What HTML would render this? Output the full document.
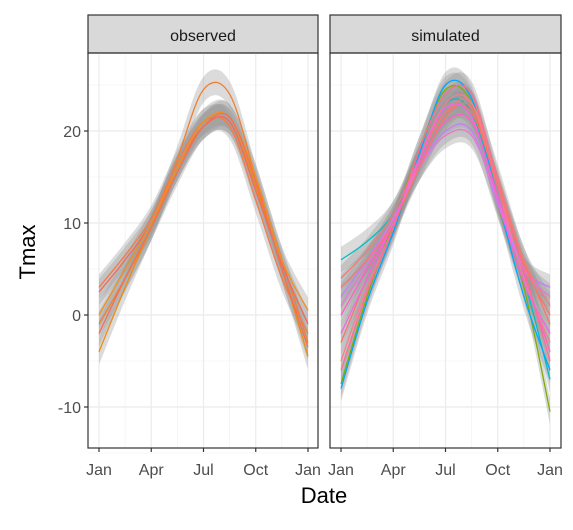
<!DOCTYPE html>
<html><head><meta charset="utf-8"><style>
body{margin:0;background:#fff;font-family:"Liberation Sans",sans-serif}
</style></head><body>
<svg id="c" width="573" height="525" xmlns="http://www.w3.org/2000/svg"></svg>
<script>
const months=[0,1.5,3,4.5,6,7.5,9,10.5,12];
const xTickLabels=["Jan","Apr","Jul","Oct","Jan"];
const xTickMonths=[0,3,6,9,12];
const yTicks=[-10,0,10,20];
const panels=["observed","simulated"];
const obs1=[-1,4,9.5,17,24.5,24,15,6,-3];
const obs2=[-4,3,9.5,16,20.5,21,14,5,-4.5];
const obs3=[2.5,6,10,16,20.5,21,13.5,5.5,-1];
const obs4=[3,6.5,10.5,16.5,21,20.5,12.5,4,-2];
const obs5=[0,5,10,16,21,21.5,15,6,0.5];
const obs6=[-2,4,9.5,15.5,20.5,21.5,14.5,5,-3.5];
const sim1=[-7.5,2,10,18,24.5,23,12,3,-10.5];
const sim2=[6,8,11,17,23,22,13,4,-7];
const sim3=[-8,1.5,9,17.5,25,23.5,12.5,2,-6];
const sim4=[2,6,10.5,16,20,20,12,5,3];
const sim5=[-3,4,10,17,22,22,14,6,-1];
const sim6=[0,5,10,16.5,21,21,13,4.5,-4];
const sim7=[4,7,11,17,22,23,15,6,1];
const sim8=[-5,3,9.5,17,23,23,14,4,-3];
const sim9=[1,5.5,10.5,16,19.5,19.5,12.5,5,2];
const sim10=[-6,2.5,9.5,18,24,24,14.5,5,-5];
const sim11=[3,6,10,16,21.5,22.5,14,5.5,0];
const sim12=[-2,4,10,17,22.5,21.5,12.5,3.5,-2];
const obsSeries=[obs1,obs2,obs3,obs4,obs5,obs6];
const simSeries=[sim1,sim2,sim3,sim4,sim5,sim6,sim7,sim8,sim9,sim10,sim11,sim12];
const obsColors=["#f08030","#f08a10","#f36a5a","#f07c48","#f09020","#f37050"];
const simColors=["#7cae00","#00bfc4","#00a9ff","#c77cff","#f8766d","#ff61c3","#f07c7c","#f58090","#e47ad0","#ff6c91","#f8766d","#f564e3"];
const NS="http://www.w3.org/2000/svg";
const svg=document.getElementById('c');
function el(t,a,p){const e=document.createElementNS(NS,t);for(const k in a)e.setAttribute(k,a[k]);(p||svg).appendChild(e);return e;}
const y=v=>315-9.2*v;
const B=448;
const P=[{x0:88,x1:318,xs:99,xe:308},{x0:330,x1:561,xs:341,xe:550}];
function path(xs,ys){let d=`M${xs[0]},${ys[0]}`;for(let i=0;i<xs.length-1;i++){const p0=i?i-1:i,p3=i+2<xs.length?i+2:i+1;
const c1x=xs[i]+(xs[i+1]-xs[p0])/6,c1y=ys[i]+(ys[i+1]-ys[p0])/6,c2x=xs[i+1]-(xs[p3]-xs[i])/6,c2y=ys[i+1]-(ys[p3]-ys[i])/6;
d+=` C${c1x},${c1y} ${c2x},${c2y} ${xs[i+1]},${ys[i+1]}`;}return d;}
panels.forEach((name,pi)=>{
 const p=P[pi];const x=m=>p.xs+(p.xe-p.xs)*m/12;
 const g=el('g',{});
 const s=el('rect',{x:p.x0,y:15,width:p.x1-p.x0,height:38,fill:'#d9d9d9',stroke:'#333','stroke-width':1.2},g);
 
 const st=el('text',{x:(p.x0+p.x1)/2,y:41,'text-anchor':'middle','font-size':16,fill:'#1a1a1a'},g);st.textContent=name;
 
 [-15,-5,5,15,25].forEach(v=>el('line',{x1:p.x0,x2:p.x1,y1:y(v),y2:y(v),stroke:'#f0f0f0','stroke-width':0.6},g));
 [1.5,4.5,7.5,10.5].forEach(m=>el('line',{x1:x(m),x2:x(m),y1:53,y2:B,stroke:'#f0f0f0','stroke-width':0.6},g));
 yTicks.forEach(v=>el('line',{x1:p.x0,x2:p.x1,y1:y(v),y2:y(v),stroke:'#ebebeb','stroke-width':1.2},g));
 xTickMonths.forEach(m=>el('line',{x1:x(m),x2:x(m),y1:53,y2:B,stroke:'#ebebeb','stroke-width':1.2},g));
 const ser=pi?simSeries:obsSeries,cols=pi?simColors:obsColors;
 const xs=months.map(x);
 ser.forEach(s=>{const up=s.map(v=>y(v+1.4)),lo=s.map(v=>y(v-1.4));
  const d=path(xs,up)+' L'+path(xs.slice().reverse(),lo.slice().reverse()).slice(1)+' Z';
  const r=el('path',{d,fill:'#999','fill-opacity':0.35},g);});
 ser.forEach((s,i)=>{const l=el('path',{d:path(xs,s.map(y)),fill:'none',stroke:cols[i],'stroke-width':1.3},g);
  });
 el('rect',{x:p.x0,y:53,width:p.x1-p.x0,height:B-53,fill:'none',stroke:'#333','stroke-width':1.2},g);
 xTickMonths.forEach((m,i)=>{el('line',{x1:x(m),x2:x(m),y1:B,y2:B+4,stroke:'#333','stroke-width':1.2},g);
  const t=el('text',{x:x(m),y:475,'text-anchor':'middle','font-size':16,fill:'#4d4d4d'},g);t.textContent=xTickLabels[i];
  });
 if(pi==0) yTicks.forEach(v=>{el('line',{x1:84,x2:88,y1:y(v),y2:y(v),stroke:'#333','stroke-width':1.2},g);
  const t=el('text',{x:81,y:y(v)+6,'text-anchor':'end','font-size':16,fill:'#4d4d4d'},g);t.textContent=v;
  });
});
const yt=el('text',{x:0,y:0,transform:'translate(35,252) rotate(-90)','text-anchor':'middle','font-size':22,fill:'#000'});yt.textContent='Tmax';

const xt=el('text',{x:324,y:503,'text-anchor':'middle','font-size':22,fill:'#000'});xt.textContent='Date';

</script>
</body></html>
